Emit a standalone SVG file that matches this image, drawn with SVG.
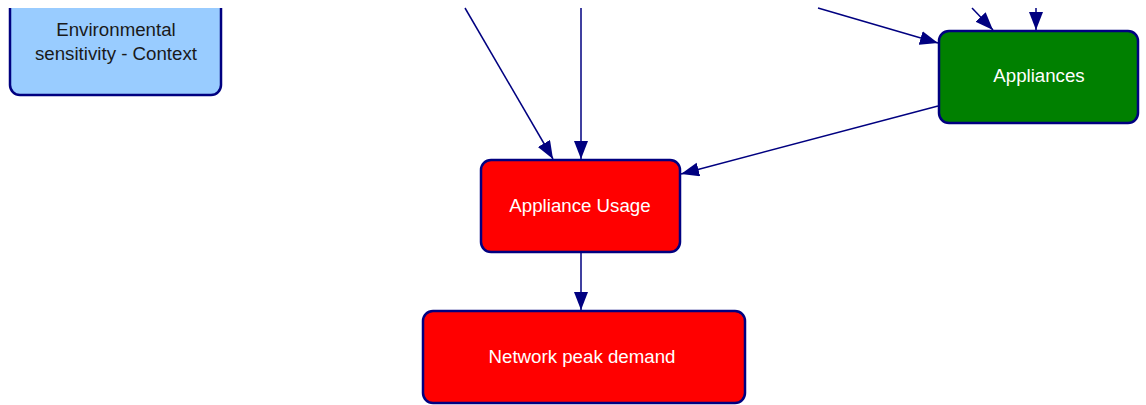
<svg xmlns="http://www.w3.org/2000/svg" width="1146" height="405" viewBox="0 0 1146 405">
<style>
.node{stroke:#000080;stroke-width:2.5}
.lbl{font-family:"Liberation Sans",Arial,sans-serif;font-size:18.7px;text-anchor:middle}
.edge{stroke:#000080;stroke-width:1.5;fill:none;marker-end:url(#ah)}
</style>
<defs>
<marker id="ah" markerUnits="userSpaceOnUse" markerWidth="19" markerHeight="15" refX="18" refY="7" orient="auto">
<path d="M0,0 L18,7 L0,14 z" fill="#000080"/>
</marker>
<clipPath id="top"><rect x="0" y="8" width="1146" height="400"/></clipPath>
</defs>
<rect width="1146" height="405" fill="#fff"/>
<g id="connectors">
<line class="edge" x1="465" y1="8" x2="553" y2="159"/>
<line class="edge" x1="581" y1="8" x2="581" y2="159"/>
<line class="edge" x1="818" y1="8" x2="938" y2="43"/>
<line class="edge" x1="972" y1="8" x2="993" y2="30"/>
<line class="edge" x1="1036" y1="8" x2="1036" y2="30"/>
<line class="edge" x1="938" y1="106" x2="681" y2="174"/>
<line class="edge" x1="581" y1="252" x2="581" y2="310"/>
</g>
<g id="env" clip-path="url(#top)">
<rect class="node" x="10" y="-12" width="211" height="107" rx="10" fill="#99ccff"/>
<text class="lbl" x="116" y="36" fill="#1a1a1a">Environmental</text>
<text class="lbl" x="116" y="60" fill="#1a1a1a">sensitivity - Context</text>
</g>
<g id="appliances">
<rect class="node" x="939" y="31" width="199" height="92" rx="10" fill="#008000"/>
<text class="lbl" x="1039" y="82" fill="#fff">Appliances</text>
</g>
<g id="usage">
<rect class="node" x="481" y="160" width="199" height="92" rx="10" fill="#ff0000"/>
<text class="lbl" x="580" y="212" fill="#fff">Appliance Usage</text>
</g>
<g id="network">
<rect class="node" x="423" y="311" width="322" height="92" rx="10" fill="#ff0000"/>
<text class="lbl" x="582" y="363" fill="#fff">Network peak demand</text>
</g>
</svg>
